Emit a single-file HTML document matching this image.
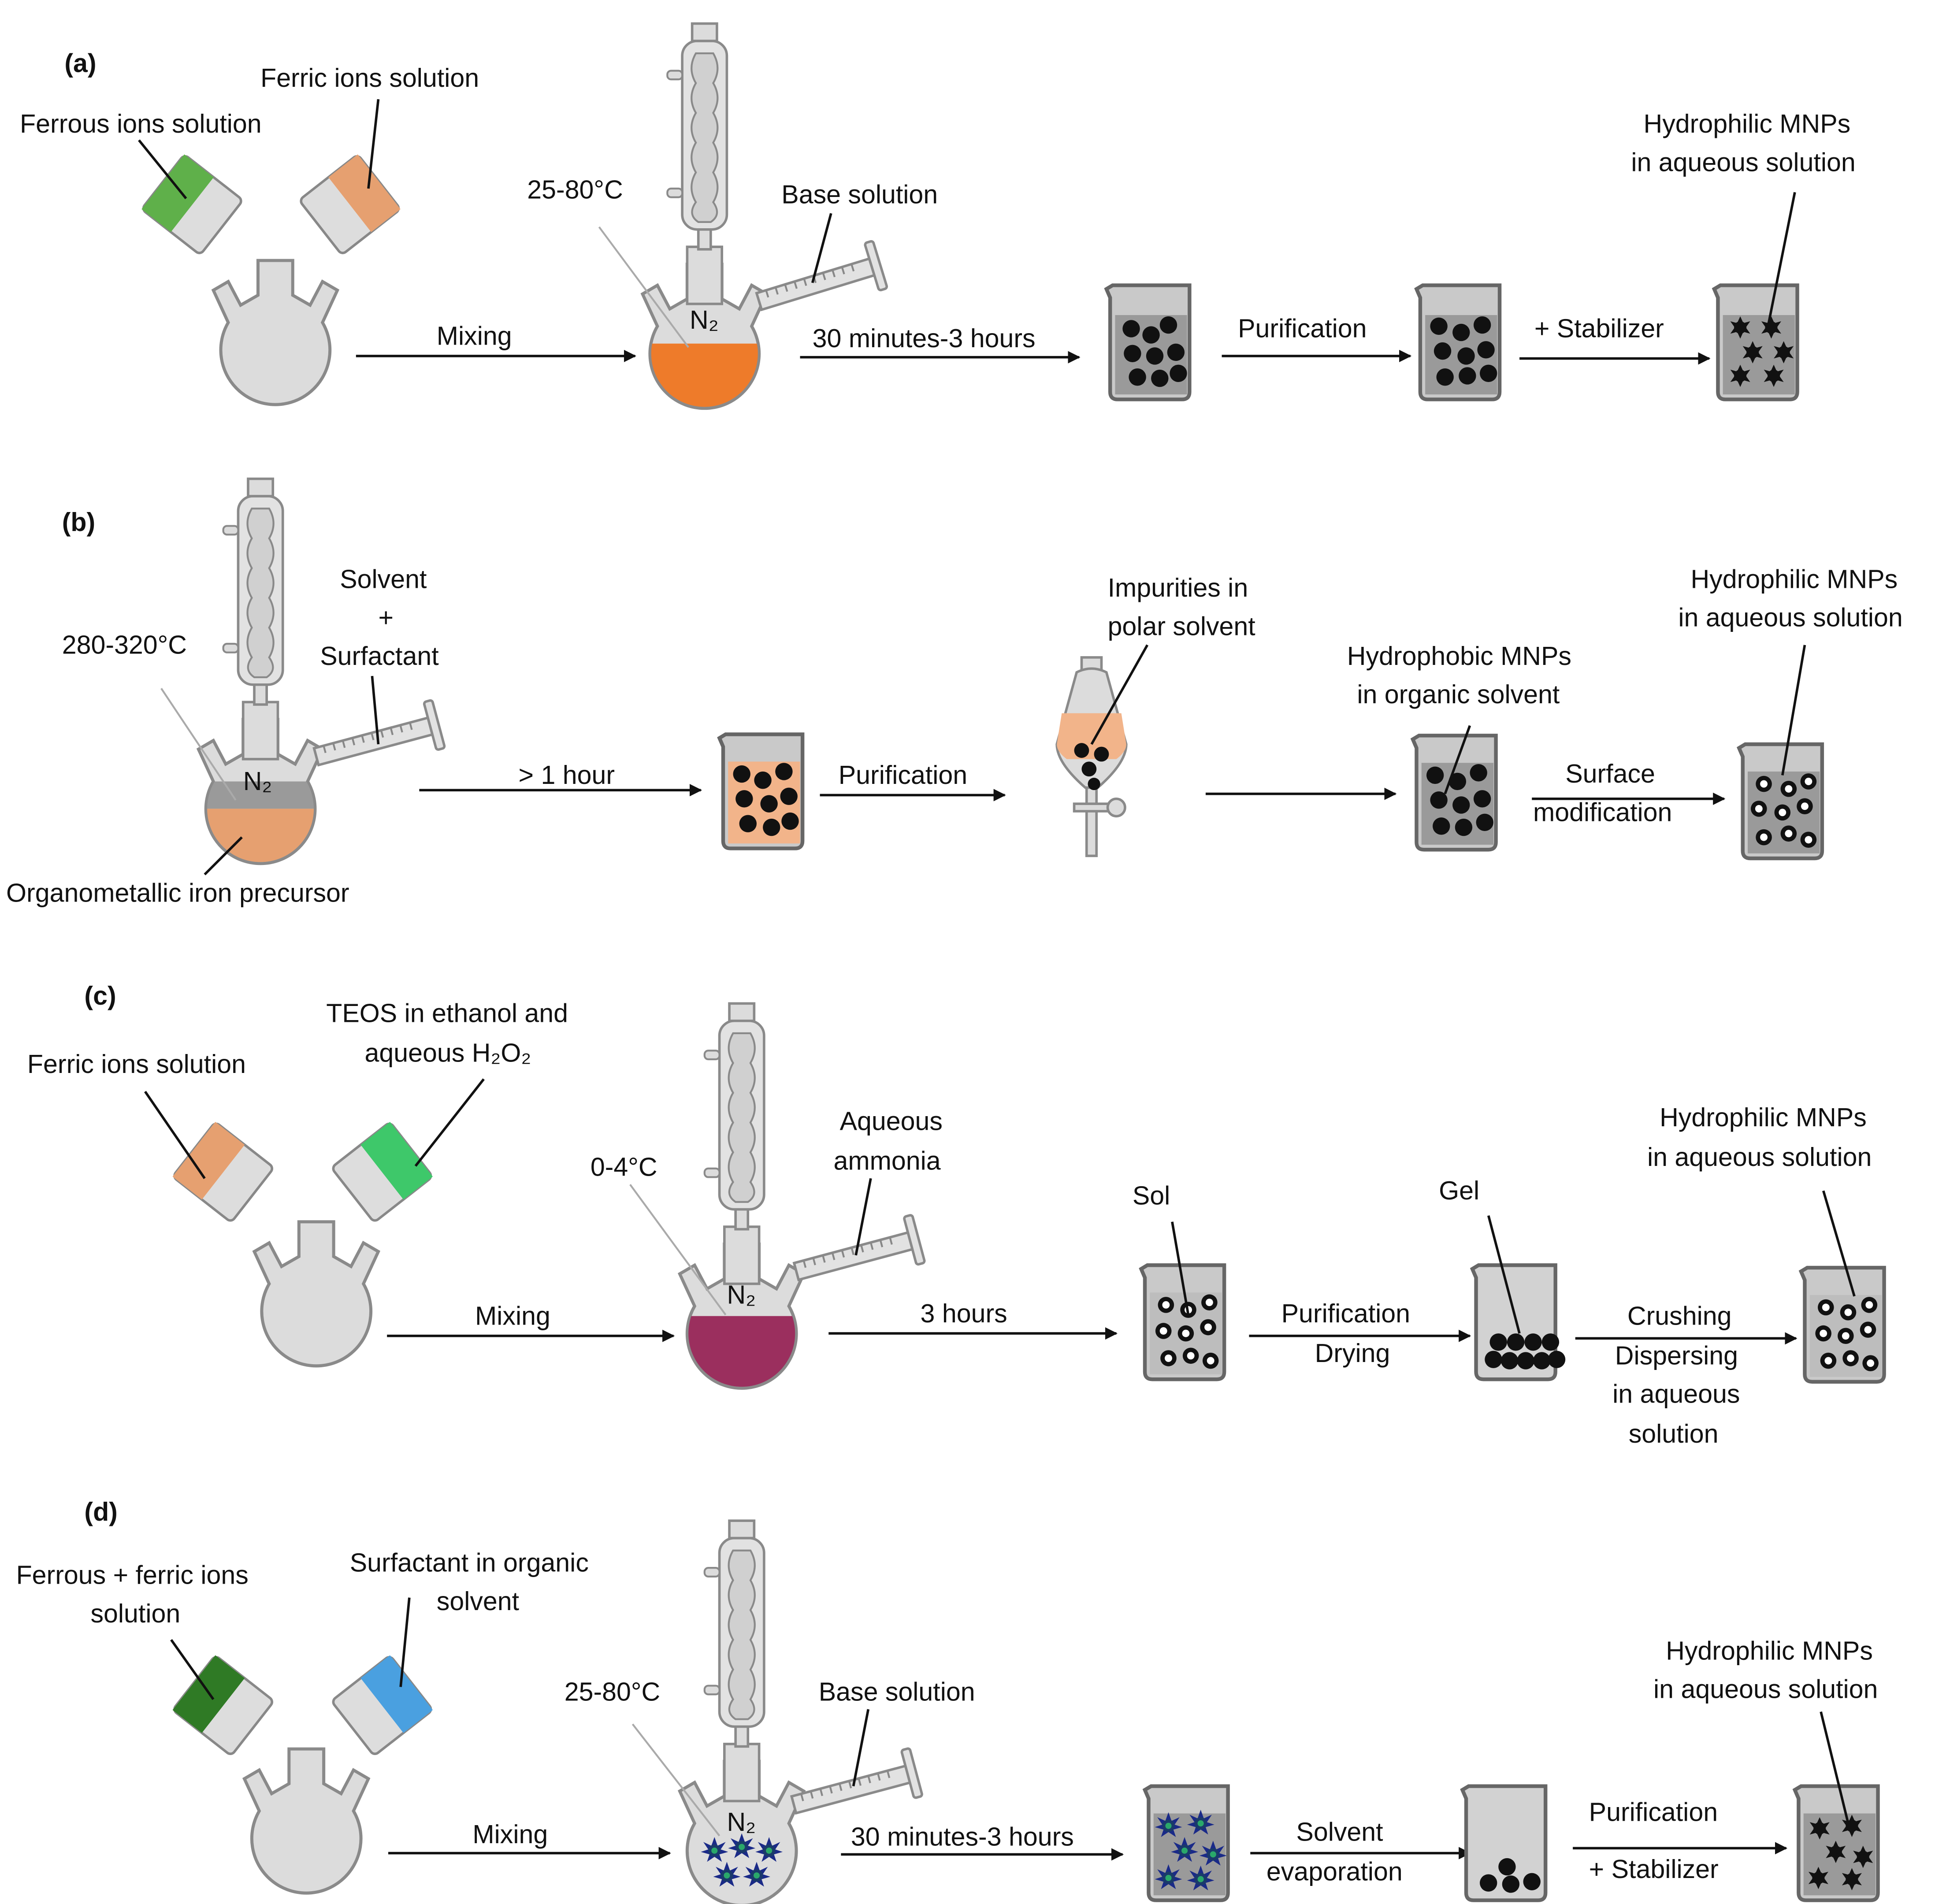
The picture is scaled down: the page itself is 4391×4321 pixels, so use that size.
<!DOCTYPE html>
<html><head><meta charset="utf-8"><style>
html,body{margin:0;padding:0;background:#fff;}
svg{display:block;}
text{font-family:"Liberation Sans",sans-serif;font-size:21px;fill:#111;}
</style></head><body>
<svg width="4391" height="4321" viewBox="0 0 1560 1535" preserveAspectRatio="none" xmlns="http://www.w3.org/2000/svg">
<defs>
<marker id="ah" markerWidth="10" markerHeight="10" refX="9" refY="5" orient="auto" markerUnits="userSpaceOnUse"><path d="M0,0 L10,5 L0,10 Z" fill="#111"/></marker>
<path id="fl" d="M -14,-72 L 14,-72 L 14,-44 L 28,-36 L 38,-55 L 50,-48 L 38,-22 A 44 44 0 1 1 -38,-22 L -50,-48 L -38,-55 L -28,-36 L -14,-44 Z"/>
<g id="flask"><use href="#fl" fill="#dcdcdc" stroke="#8a8a8a" stroke-width="2.5"/></g>
<clipPath id="bulb"><circle cx="0" cy="0" r="43"/></clipPath>
<g id="cond">
 <rect x="-14" y="-86" width="28" height="46" fill="#dcdcdc" stroke="#8a8a8a" stroke-width="2"/>
 <rect x="-5" y="-102" width="10" height="18" fill="#dcdcdc" stroke="#8a8a8a" stroke-width="2"/>
 <rect x="-18" y="-252" width="36" height="152" rx="12" fill="#e2e2e2" stroke="#8a8a8a" stroke-width="2"/>
 <path d="M -7,-242 Q -14,-230 -7,-218 Q -14,-206 -7,-194 Q -14,-182 -7,-170 Q -14,-158 -7,-146 Q -14,-134 -7,-122 Q -14,-112 -5,-106 L 5,-106 Q 14,-112 7,-122 Q 14,-134 7,-146 Q 14,-158 7,-170 Q 14,-182 7,-194 Q 14,-206 7,-218 Q 14,-230 7,-242 Z" fill="#d0d0d0" stroke="#8a8a8a" stroke-width="1.5"/>
 <rect x="-30" y="-228" width="12" height="7" rx="3" fill="#dcdcdc" stroke="#8a8a8a" stroke-width="1.5"/>
 <rect x="-30" y="-133" width="12" height="7" rx="3" fill="#dcdcdc" stroke="#8a8a8a" stroke-width="1.5"/>
 <rect x="-10" y="-266" width="20" height="14" fill="#dcdcdc" stroke="#8a8a8a" stroke-width="2"/>
</g>
<g id="syr">
 <rect x="0" y="-7" width="95" height="14" fill="#e2e2e2" stroke="#8a8a8a" stroke-width="2"/>
 <path d="M8,-7 v6 M16,-7 v6 M24,-7 v6 M32,-7 v6 M40,-7 v6 M48,-7 v6 M56,-7 v6 M64,-7 v6 M72,-7 v6 M80,-7 v6" stroke="#888" stroke-width="1.5"/>
 <rect x="95" y="-20" width="7" height="40" rx="2" fill="#e2e2e2" stroke="#8a8a8a" stroke-width="2"/>
</g>
<path id="bk" d="M 2,0 L 64,0 L 64,86 Q 64,92 58,92 L 6,92 Q 0,92 0,86 L 0,10 L -3,3 Z"/>
<g id="star"><path d="M0,-9 L2.5,-3.5 L8,-5 L4.5,0 L8,5 L2.5,3.5 L0,9 L-2.5,3.5 L-8,5 L-4.5,0 L-8,-5 L-2.5,-3.5 Z" fill="#111"/><circle r="5" fill="#111"/></g>
<g id="bstar"><path d="M0,-11 L2.5,-4 L9,-7 L5,-1 L11,1 L4,3 L6,9 L0,5 L-6,9 L-4,3 L-11,1 L-5,-1 L-9,-7 L-2.5,-4 Z" fill="#1a2a88"/><circle r="5" fill="#1a3a6a"/><circle r="2.5" fill="#2aa86a"/></g>
<g id="wp"><circle r="6.5" fill="#111"/><circle r="3" fill="#fff"/></g>
</defs>

<g stroke="#111" stroke-width="2" fill="none">
<line x1="287" y1="287" x2="512" y2="287" marker-end="url(#ah)"/>
<line x1="645" y1="288" x2="870" y2="288" marker-end="url(#ah)"/>
<line x1="985" y1="287" x2="1137" y2="287" marker-end="url(#ah)"/>
<line x1="1225" y1="289" x2="1378" y2="289" marker-end="url(#ah)"/>
<line x1="338" y1="637" x2="565" y2="637" marker-end="url(#ah)"/>
<line x1="661" y1="641" x2="810" y2="641" marker-end="url(#ah)"/>
<line x1="972" y1="640" x2="1125" y2="640" marker-end="url(#ah)"/>
<line x1="1235" y1="644" x2="1390" y2="644" marker-end="url(#ah)"/>
<line x1="312" y1="1077" x2="543" y2="1077" marker-end="url(#ah)"/>
<line x1="668" y1="1075" x2="900" y2="1075" marker-end="url(#ah)"/>
<line x1="1007" y1="1077" x2="1185" y2="1077" marker-end="url(#ah)"/>
<line x1="1270" y1="1079" x2="1448" y2="1079" marker-end="url(#ah)"/>
<line x1="313" y1="1494" x2="540" y2="1494" marker-end="url(#ah)"/>
<line x1="678" y1="1495" x2="905" y2="1495" marker-end="url(#ah)"/>
<line x1="1008" y1="1494" x2="1185" y2="1494" marker-end="url(#ah)"/>
<line x1="1268" y1="1490" x2="1440" y2="1490" marker-end="url(#ah)"/>
</g>

<!-- ===== (a) ===== -->
<g transform="translate(155,165) rotate(38)"><rect x="-30" y="-28" width="60" height="56" rx="4" fill="#ddd" stroke="#888" stroke-width="2"/><rect x="-30" y="-28" width="30" height="56" fill="#5fb04a"/></g>
<g transform="translate(282,165) rotate(-38)"><rect x="-30" y="-28" width="60" height="56" rx="4" fill="#ddd" stroke="#888" stroke-width="2"/><rect x="0" y="-28" width="30" height="56" fill="#e6a070"/></g>
<use href="#flask" transform="translate(222,282)"/>
<g transform="translate(568,285)"><use href="#fl" fill="#dcdcdc" stroke="#8a8a8a" stroke-width="2.5"/><use href="#cond"/><rect x="-45" y="-8" width="90" height="60" fill="#ee7b2a" clip-path="url(#bulb)"/><text x="-12" y="-20" font-size="19">N₂</text></g>
<use href="#syr" transform="translate(612,243) rotate(-17)"/>
<use href="#bk" transform="translate(895,230)" fill="#c9c9c9" stroke="#666" stroke-width="3"/>
<rect x="899" y="254" width="58" height="64" fill="#9a9a9a"/>
<use href="#bk" transform="translate(1145,230)" fill="#c9c9c9" stroke="#666" stroke-width="3"/>
<rect x="1149" y="254" width="58" height="64" fill="#9a9a9a"/>
<use href="#bk" transform="translate(1385,230)" fill="#c9c9c9" stroke="#666" stroke-width="3"/>
<rect x="1389" y="254" width="58" height="64" fill="#9a9a9a"/>
<g fill="#111">
<circle cx="912" cy="265" r="7"/><circle cx="928" cy="270" r="7"/><circle cx="942" cy="262" r="7"/><circle cx="913" cy="285" r="7"/><circle cx="931" cy="287" r="7"/><circle cx="948" cy="284" r="7"/><circle cx="917" cy="304" r="7"/><circle cx="935" cy="305" r="7"/><circle cx="950" cy="301" r="7"/>
<circle cx="1160" cy="263" r="7"/><circle cx="1178" cy="268" r="7"/><circle cx="1195" cy="262" r="7"/><circle cx="1163" cy="283" r="7"/><circle cx="1182" cy="287" r="7"/><circle cx="1198" cy="282" r="7"/><circle cx="1165" cy="304" r="7"/><circle cx="1183" cy="303" r="7"/><circle cx="1200" cy="301" r="7"/>
</g>
<use href="#star" x="1403" y="264"/><use href="#star" x="1428" y="264"/><use href="#star" x="1413" y="284"/><use href="#star" x="1438" y="284"/><use href="#star" x="1403" y="303"/><use href="#star" x="1430" y="303"/>
<g stroke="#111" stroke-width="2"><line x1="112" y1="113" x2="150" y2="160"/><line x1="305" y1="80" x2="297" y2="152"/><line x1="670" y1="172" x2="655" y2="228"/><line x1="1447" y1="155" x2="1425" y2="265"/></g>
<line x1="483" y1="183" x2="555" y2="280" stroke="#aaa" stroke-width="1.5"/>
<text x="52" y="58" font-weight="bold" font-size="23">(a)</text>
<text x="16" y="107">Ferrous ions solution</text>
<text x="210" y="70">Ferric ions solution</text>
<text x="352" y="278">Mixing</text>
<text x="425" y="160">25-80°C</text>
<text x="630" y="164">Base solution</text>
<text x="655" y="280">30  minutes-3 hours</text>
<text x="998" y="272">Purification</text>
<text x="1237" y="272">+ Stabilizer</text>
<text x="1325" y="107">Hydrophilic MNPs</text>
<text x="1315" y="138">in aqueous solution</text>

<!-- ===== (b) ===== -->
<g transform="translate(210,652)"><use href="#fl" fill="#dcdcdc" stroke="#8a8a8a" stroke-width="2.5"/><use href="#cond"/><rect x="-45" y="-22" width="90" height="22" fill="#9a9a9a" clip-path="url(#bulb)"/><rect x="-45" y="0" width="90" height="60" fill="#e6a070" clip-path="url(#bulb)"/><text x="-14" y="-15" font-size="19">N₂</text></g>
<use href="#syr" transform="translate(255,610) rotate(-15)"/>
<use href="#bk" transform="translate(583,592)" fill="#c9c9c9" stroke="#666" stroke-width="3"/>
<rect x="587" y="614" width="58" height="66" fill="#f2b48a"/>
<g fill="#111"><circle cx="598" cy="624" r="7"/><circle cx="615" cy="629" r="7"/><circle cx="632" cy="622" r="7"/><circle cx="600" cy="644" r="7"/><circle cx="620" cy="648" r="7"/><circle cx="636" cy="642" r="7"/><circle cx="603" cy="664" r="7"/><circle cx="622" cy="667" r="7"/><circle cx="637" cy="662" r="7"/></g>
<g stroke="#8a8a8a" stroke-width="2">
<rect x="872" y="530" width="16" height="12" fill="#dcdcdc"/>
<path d="M868,542 Q880,536 892,542 L908,600 Q908,615 885,635 L875,635 Q852,615 852,600 Z" fill="#dcdcdc"/>
<rect x="876" y="635" width="8" height="55" fill="#dcdcdc"/>
<rect x="866" y="648" width="28" height="6" fill="#dcdcdc"/>
<circle cx="900" cy="651" r="7" fill="#dcdcdc"/>
</g>
<path d="M856,575 L904,575 L908,600 Q908,606 900,612 L860,612 Q852,606 852,600 Z" fill="#f2b48a"/>
<g fill="#111"><circle cx="872" cy="605" r="6"/><circle cx="888" cy="608" r="6"/><circle cx="878" cy="620" r="6"/><circle cx="882" cy="632" r="5"/></g>
<use href="#bk" transform="translate(1142,593)" fill="#c9c9c9" stroke="#666" stroke-width="3"/>
<rect x="1146" y="615" width="58" height="66" fill="#9a9a9a"/>
<g fill="#111"><circle cx="1157" cy="625" r="7"/><circle cx="1175" cy="630" r="7"/><circle cx="1192" cy="623" r="7"/><circle cx="1160" cy="645" r="7"/><circle cx="1178" cy="649" r="7"/><circle cx="1195" cy="644" r="7"/><circle cx="1162" cy="666" r="7"/><circle cx="1180" cy="667" r="7"/><circle cx="1197" cy="663" r="7"/></g>
<use href="#bk" transform="translate(1405,600)" fill="#c9c9c9" stroke="#666" stroke-width="3"/>
<rect x="1409" y="622" width="58" height="66" fill="#9a9a9a"/>
<use href="#wp" x="1422" y="632"/><use href="#wp" x="1442" y="636"/><use href="#wp" x="1458" y="630"/><use href="#wp" x="1418" y="652"/><use href="#wp" x="1437" y="655"/><use href="#wp" x="1455" y="650"/><use href="#wp" x="1422" y="675"/><use href="#wp" x="1442" y="672"/><use href="#wp" x="1458" y="677"/>
<g stroke="#111" stroke-width="2"><line x1="300" y1="545" x2="305" y2="600"/><line x1="165" y1="705" x2="195" y2="675"/><line x1="925" y1="520" x2="880" y2="600"/><line x1="1185" y1="585" x2="1165" y2="640"/><line x1="1455" y1="520" x2="1437" y2="625"/></g>
<line x1="130" y1="555" x2="190" y2="645" stroke="#aaa" stroke-width="1.5"/>
<text x="50" y="428" font-weight="bold" font-size="23">(b)</text>
<text x="274" y="474">Solvent</text>
<text x="305" y="505">+</text>
<text x="258" y="536">Surfactant</text>
<text x="50" y="527">280-320°C</text>
<text x="5" y="727">Organometallic iron precursor</text>
<text x="418" y="632">&gt; 1 hour</text>
<text x="676" y="632">Purification</text>
<text x="893" y="481">Impurities in</text>
<text x="893" y="512">polar solvent</text>
<text x="1086" y="536">Hydrophobic MNPs</text>
<text x="1094" y="567">in organic solvent</text>
<text x="1262" y="631">Surface</text>
<text x="1236" y="662">modification</text>
<text x="1363" y="474">Hydrophilic MNPs</text>
<text x="1353" y="505">in aqueous solution</text>

<!-- ===== (c) ===== -->
<g transform="translate(180,945) rotate(38)"><rect x="-30" y="-28" width="60" height="56" rx="4" fill="#ddd" stroke="#888" stroke-width="2"/><rect x="-30" y="-28" width="30" height="56" fill="#e6a070"/></g>
<g transform="translate(308,945) rotate(-38)"><rect x="-30" y="-28" width="60" height="56" rx="4" fill="#ddd" stroke="#888" stroke-width="2"/><rect x="0" y="-28" width="30" height="56" fill="#3ec86a"/></g>
<use href="#flask" transform="translate(255,1057)"/>
<g transform="translate(598,1075)"><use href="#fl" fill="#dcdcdc" stroke="#8a8a8a" stroke-width="2.5"/><use href="#cond"/><rect x="-45" y="-14" width="90" height="60" fill="#9b2f5e" clip-path="url(#bulb)"/><text x="-12" y="-24" font-size="19">N₂</text></g>
<use href="#syr" transform="translate(642,1025) rotate(-15)"/>
<use href="#bk" transform="translate(923,1020)" fill="#c9c9c9" stroke="#666" stroke-width="3"/>
<rect x="927" y="1042" width="58" height="66" fill="#bdbdbd"/>
<use href="#wp" x="940" y="1052"/><use href="#wp" x="958" y="1056"/><use href="#wp" x="975" y="1050"/><use href="#wp" x="938" y="1073"/><use href="#wp" x="956" y="1075"/><use href="#wp" x="974" y="1070"/><use href="#wp" x="942" y="1095"/><use href="#wp" x="960" y="1093"/><use href="#wp" x="976" y="1097"/>
<use href="#bk" transform="translate(1190,1020)" fill="#d2d2d2" stroke="#666" stroke-width="3"/>
<g fill="#111"><circle cx="1208" cy="1082" r="7"/><circle cx="1222" cy="1082" r="7"/><circle cx="1236" cy="1082" r="7"/><circle cx="1250" cy="1082" r="7"/><circle cx="1204" cy="1096" r="7"/><circle cx="1217" cy="1097" r="7"/><circle cx="1230" cy="1097" r="7"/><circle cx="1243" cy="1097" r="7"/><circle cx="1255" cy="1096" r="7"/></g>
<use href="#bk" transform="translate(1455,1022)" fill="#c9c9c9" stroke="#666" stroke-width="3"/>
<rect x="1459" y="1044" width="58" height="66" fill="#bdbdbd"/>
<use href="#wp" x="1472" y="1054"/><use href="#wp" x="1490" y="1058"/><use href="#wp" x="1507" y="1052"/><use href="#wp" x="1470" y="1075"/><use href="#wp" x="1488" y="1077"/><use href="#wp" x="1506" y="1072"/><use href="#wp" x="1474" y="1097"/><use href="#wp" x="1492" y="1095"/><use href="#wp" x="1508" y="1099"/>
<g stroke="#111" stroke-width="2"><line x1="117" y1="880" x2="165" y2="950"/><line x1="390" y1="870" x2="335" y2="940"/><line x1="702" y1="950" x2="690" y2="1012"/><line x1="945" y1="985" x2="958" y2="1060"/><line x1="1200" y1="980" x2="1225" y2="1075"/><line x1="1470" y1="960" x2="1495" y2="1045"/></g>
<line x1="508" y1="955" x2="585" y2="1060" stroke="#aaa" stroke-width="1.5"/>
<text x="68" y="810" font-weight="bold" font-size="23">(c)</text>
<text x="22" y="865">Ferric ions solution</text>
<text x="263" y="824">TEOS in ethanol and</text>
<text x="294" y="856">aqueous H₂O₂</text>
<text x="383" y="1068">Mixing</text>
<text x="476" y="948">0-4°C</text>
<text x="677" y="911">Aqueous</text>
<text x="672" y="943">ammonia</text>
<text x="742" y="1066">3 hours</text>
<text x="913" y="971">Sol</text>
<text x="1160" y="967">Gel</text>
<text x="1033" y="1066">Purification</text>
<text x="1060" y="1098">Drying</text>
<text x="1312" y="1068">Crushing</text>
<text x="1302" y="1100">Dispersing</text>
<text x="1300" y="1131">in aqueous</text>
<text x="1313" y="1163">solution</text>
<text x="1338" y="908">Hydrophilic MNPs</text>
<text x="1328" y="940">in aqueous solution</text>

<!-- ===== (d) ===== -->
<g transform="translate(180,1375) rotate(38)"><rect x="-30" y="-28" width="60" height="56" rx="4" fill="#ddd" stroke="#888" stroke-width="2"/><rect x="-30" y="-28" width="30" height="56" fill="#2f7a25"/></g>
<g transform="translate(308,1375) rotate(-38)"><rect x="-30" y="-28" width="60" height="56" rx="4" fill="#ddd" stroke="#888" stroke-width="2"/><rect x="0" y="-28" width="30" height="56" fill="#4aa0e0"/></g>
<use href="#flask" transform="translate(247,1482)"/>
<g transform="translate(598,1492)"><use href="#fl" fill="#dcdcdc" stroke="#8a8a8a" stroke-width="2.5"/><use href="#cond"/><text x="-12" y="-16" font-size="19">N₂</text>
<use href="#bstar" x="-22" y="0"/><use href="#bstar" x="0" y="-3"/><use href="#bstar" x="22" y="0"/><use href="#bstar" x="-12" y="20"/><use href="#bstar" x="12" y="20"/></g>
<use href="#syr" transform="translate(640,1455) rotate(-15)"/>
<use href="#bk" transform="translate(926,1440)" fill="#c9c9c9" stroke="#666" stroke-width="3"/>
<rect x="930" y="1462" width="58" height="66" fill="#9a9a9a"/>
<use href="#bstar" x="942" y="1472"/><use href="#bstar" x="968" y="1470"/><use href="#bstar" x="955" y="1492"/><use href="#bstar" x="978" y="1495"/><use href="#bstar" x="942" y="1514"/><use href="#bstar" x="968" y="1515"/>
<use href="#bk" transform="translate(1182,1440)" fill="#d2d2d2" stroke="#666" stroke-width="3"/>
<g fill="#111"><circle cx="1215" cy="1505" r="7"/><circle cx="1200" cy="1518" r="7"/><circle cx="1218" cy="1519" r="7"/><circle cx="1235" cy="1517" r="7"/></g>
<use href="#bk" transform="translate(1450,1440)" fill="#c9c9c9" stroke="#666" stroke-width="3"/>
<rect x="1454" y="1462" width="58" height="66" fill="#9a9a9a"/>
<use href="#star" x="1467" y="1474"/><use href="#star" x="1493" y="1472"/><use href="#star" x="1480" y="1493"/><use href="#star" x="1502" y="1497"/><use href="#star" x="1466" y="1514"/><use href="#star" x="1493" y="1515"/>
<g stroke="#111" stroke-width="2"><line x1="138" y1="1322" x2="172" y2="1370"/><line x1="330" y1="1288" x2="323" y2="1360"/><line x1="700" y1="1378" x2="688" y2="1440"/><line x1="1468" y1="1380" x2="1490" y2="1470"/></g>
<line x1="510" y1="1390" x2="580" y2="1480" stroke="#aaa" stroke-width="1.5"/>
<text x="68" y="1226" font-weight="bold" font-size="23">(d)</text>
<text x="13" y="1277">Ferrous + ferric ions</text>
<text x="73" y="1308">solution</text>
<text x="282" y="1267">Surfactant in organic</text>
<text x="352" y="1298">solvent</text>
<text x="381" y="1486">Mixing</text>
<text x="455" y="1371">25-80°C</text>
<text x="660" y="1371">Base solution</text>
<text x="686" y="1488">30  minutes-3 hours</text>
<text x="1045" y="1484">Solvent</text>
<text x="1021" y="1516">evaporation</text>
<text x="1281" y="1468">Purification</text>
<text x="1281" y="1514">+ Stabilizer</text>
<text x="1343" y="1338">Hydrophilic MNPs</text>
<text x="1333" y="1369">in aqueous solution</text>
</svg>
</body></html>
